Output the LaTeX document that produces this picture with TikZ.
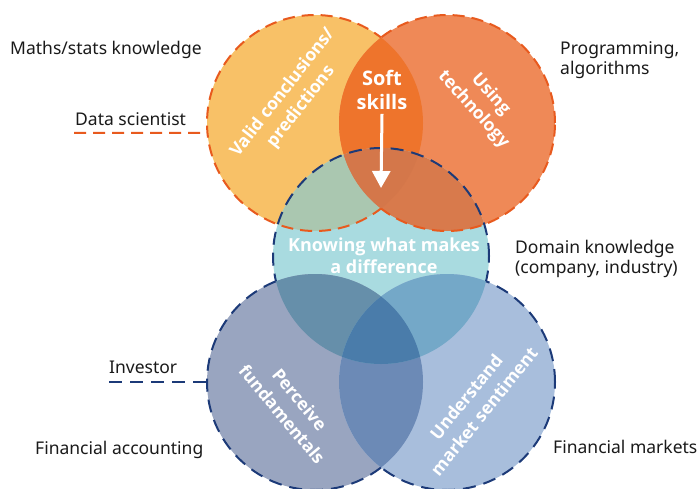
\documentclass[tikz,border=0pt]{standalone}
\usepackage{fontspec}
\setmainfont{Noto Sans}
\newfontfamily\areafont{Open Sans}
\usepackage{tikz}
\usetikzlibrary{arrows.meta}
\definecolor{mathsfill}{HTML}{F8C167}
\definecolor{progfill}{HTML}{EF8957}
\definecolor{softfill}{HTML}{EE742C}
\definecolor{domainfill}{HTML}{A9DBE0}
\definecolor{mathsdomain}{HTML}{AAC7B0}
\definecolor{progdomain}{HTML}{D87A4C}
\definecolor{topthree}{HTML}{D4774A}
\definecolor{acctfill}{HTML}{99A5C0}
\definecolor{mktsfill}{HTML}{A8BEDC}
\definecolor{acctmkts}{HTML}{6C8AB6}
\definecolor{acctdomain}{HTML}{668FAA}
\definecolor{mktsdomain}{HTML}{74A8C8}
\definecolor{lowthree}{HTML}{4A7CAA}
\definecolor{dsorange}{HTML}{E85A1E}
\definecolor{invnavy}{HTML}{1C3A78}
\definecolor{textgrey}{HTML}{1A1A1A}
\newcommand{\lens}[3]{%
    \begin{scope}
    \clip (#1) circle[radius=\R];
    \fill[#3] (#2) circle[radius=\R];
    \end{scope}}
\newcommand{\outside}[1]{%
    \clip (-20,-20) rectangle (720,508) (#1) circle[radius=\R];}
\tikzset{%
    sidetext/.style={anchor=base west, inner sep=0pt, text=textgrey,
        font=\fontsize{17.5}{20}\selectfont, align=left},
    areatext/.style={text=white, inner sep=0pt, align=center,
        font=\areafont\fontsize{17.5}{23}\selectfont\bfseries},
    dsline/.style={draw=dsorange, line width=2pt, dash pattern=on 12pt off 7pt},
    invline/.style={draw=invnavy, line width=2pt, dash pattern=on 13pt off 8pt}
}
\begin{document}
\begin{tikzpicture}[x=1pt,y=1pt]
    \useasboundingbox (0,0) rectangle (700,488);
    \def\R{108}
    \coordinate (maths) at (315,365);
    \coordinate (prog) at (447,365);
    \coordinate (domain) at (381,232);
    \coordinate (acct) at (315,106);
    \coordinate (mkts) at (447,106);
    % data scientist circles
    \fill[mathsfill] (maths) circle[radius=\R];
    \fill[progfill] (prog) circle[radius=\R];
    \lens{maths}{prog}{softfill}
    % domain circle and its overlaps
    \fill[domainfill] (domain) circle[radius=\R];
    \lens{domain}{maths}{mathsdomain}
    \lens{domain}{prog}{progdomain}
    \begin{scope}
        \clip (domain) circle[radius=\R];
        \lens{maths}{prog}{topthree}
    \end{scope}
    % investor circles
    \fill[acctfill] (acct) circle[radius=\R];
    \fill[mktsfill] (mkts) circle[radius=\R];
    \lens{acct}{mkts}{acctmkts}
    \lens{domain}{acct}{acctdomain}
    \lens{domain}{mkts}{mktsdomain}
    \begin{scope}
        \clip (domain) circle[radius=\R];
        \lens{acct}{mkts}{lowthree}
    \end{scope}
    % dashed outlines
    \begin{scope}[even odd rule]
        \outside{acct}
        \outside{mkts}
        \draw[invline] (domain) circle[radius=\R];
    \end{scope}
    \begin{scope}[even odd rule]
        \outside{domain}
        \outside{mkts}
        \draw[invline] (acct) circle[radius=\R];
    \end{scope}
    \begin{scope}[even odd rule]
        \outside{domain}
        \outside{acct}
        \draw[invline] (mkts) circle[radius=\R];
    \end{scope}
    \begin{scope}[even odd rule]
        \outside{prog}
        \draw[dsline] (maths) circle[radius=\R];
    \end{scope}
    \begin{scope}[even odd rule]
        \outside{maths}
        \draw[dsline] (prog) circle[radius=\R];
    \end{scope}
    % side labels
    \node[sidetext] (mathsLbl) at (10,433) {Maths/stats knowledge};
    \node[sidetext] (dsLbl) at (75,362) {Data scientist};
    \node[sidetext] (progLbl) at (560,413) {Programming,\\algorithms};
    \node[sidetext] (domainLbl) at (515,215) {Domain knowledge\\(company, industry)};
    \node[sidetext] (invLbl) at (109,115) {Investor};
    \node[sidetext] (acctLbl) at (35,34) {Financial accounting};
    \node[sidetext] (mktsLbl) at (553,35) {Financial markets};
    \coordinate (dsStart) at ([xshift=-1pt,yshift=-7pt]dsLbl.base west);
    \path (maths) ++(185.3:\R) coordinate (dsEnd);
    \draw[dsline] (dsStart) -- (dsEnd);
    \coordinate (invStart) at ([yshift=-9pt]invLbl.base west);
    \path (acct) ++(180:\R) coordinate (invEnd);
    \draw[invline] (invStart) -- (invEnd);
    % texts inside the circles
    \node[areatext, rotate=52] (validTxt) at (292,388) {Valid conclusions/\\predictions};
    \node[areatext, font=\areafont\fontsize{20}{24}\selectfont\bfseries] (softTxt) at (382,398) {Soft\\skills};
    \node[areatext, rotate=-48] (techTxt) at (482,386) {Using\\technology};
    \node[areatext, font=\areafont\fontsize{18}{22}\selectfont\bfseries] (diffTxt) at (384,232) {Knowing what makes\\a difference};
    \node[areatext, rotate=-50] (fundTxt) at (291,81) {Perceive\\fundamentals};
    \node[areatext, rotate=51] (sentTxt) at (475,84) {Understand\\market sentiment};
    \coordinate (arrowTip) at (381,300);
    \draw[white, line width=3pt, -{Triangle[width=18pt,length=17pt]}]
        ([yshift=-4pt]softTxt.south) -- (arrowTip);
\end{tikzpicture}
\end{document}
